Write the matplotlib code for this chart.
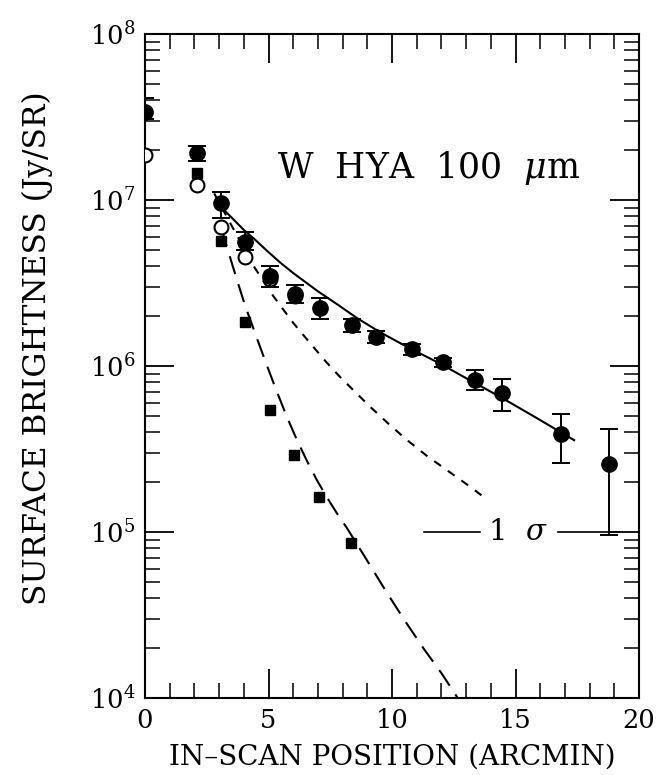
import numpy as np
import matplotlib
matplotlib.use("Agg")
import matplotlib.pyplot as plt
from matplotlib.ticker import LogLocator, MultipleLocator, NullFormatter

plt.rcParams['font.family'] = ['DejaVu Serif']
plt.rcParams['mathtext.fontset'] = 'dejavuserif'
plt.rcParams['mathtext.default'] = 'it'

# ---- data ----
# filled circles with error bars (total surface brightness)
x_total = [0.0, 2.1, 3.08, 4.05, 5.06, 6.07, 7.09, 8.38, 9.35, 10.8, 12.07, 13.36, 14.45, 16.84, 18.79]
y_total = [3.39e7, 1.92e7, 9.6e6, 5.58e6, 3.48e6, 2.71e6, 2.23e6, 1.77e6, 1.50e6, 1.26e6, 1.05e6, 8.24e5, 6.9e5, 3.89e5, 2.56e5]
y_total_hi = [4.11e7, 2.11e7, 1.12e7, 6.41e6, 4.0e6, 3.08e6, 2.57e6, 1.91e6, 1.63e6, 1.36e6, 1.12e6, 9.47e5, 8.31e5, 5.14e5, 4.16e5]
y_total_lo = [3.08e7, 1.72e7, 7.8e6, 5.0e6, 2.99e6, 2.40e6, 1.92e6, 1.61e6, 1.38e6, 1.16e6, 9.8e5, 7.16e5, 5.38e5, 2.61e5, 9.6e4]

# open circles
x_open = [0.0, 2.1, 3.08, 4.05, 5.06, 6.07]
y_open = [1.87e7, 1.23e7, 6.87e6, 4.54e6, 3.34e6, 2.64e6]

# filled squares (point source)
x_psf = [2.1, 3.08, 4.05, 5.06, 6.05, 7.04, 8.34]
y_psf = [1.45e7, 5.66e6, 1.85e6, 5.43e5, 2.91e5, 1.63e5, 8.55e4]

# model curves (log10 values)
x_solid = [3.2, 3.6, 4.0, 4.5, 4.93, 5.5, 6.0, 6.5, 7.0, 7.8, 8.57, 9.5, 10.6, 11.94, 13.2, 14.37, 15.9, 17.41]
logy_solid = [6.94, 6.88, 6.82, 6.755, 6.695, 6.62, 6.56, 6.505, 6.45, 6.37, 6.29, 6.205, 6.116, 6.015, 5.91, 5.815, 5.683, 5.55]

x_short = [2.8, 3.2, 3.6, 4.0, 4.45, 5.2, 6.0, 6.7, 7.36, 7.89, 8.5, 9.11, 9.8, 10.6, 11.4, 12.2, 13.0, 13.77]
logy_short = [7.04, 6.93, 6.82, 6.71, 6.59, 6.42, 6.26, 6.135, 6.02, 5.935, 5.845, 5.755, 5.66, 5.555, 5.46, 5.375, 5.29, 5.205]

x_long = [3.1, 3.31, 3.7, 4.05, 4.5, 4.93, 5.34, 5.74, 6.15, 6.55, 6.95, 7.36, 7.76, 8.17, 8.84, 9.79, 10.5, 11.27, 12.0, 12.66, 13.2]
logy_long = [6.83, 6.72, 6.53, 6.365, 6.18, 6.005, 5.845, 5.695, 5.555, 5.43, 5.315, 5.21, 5.115, 5.025, 4.865, 4.635, 4.47, 4.30, 4.15, 4.0, 3.88]

x_ticks_major = [0, 5, 10, 15, 20]

# ---- figure ----
fig = plt.figure(figsize=(6.72, 7.75), dpi=100)
ax = fig.add_axes([145/672, 1-698/775, (639-145)/672, (698-34)/775])

ax.set_yscale('log')
ax.set_xlim(0, 20)
ax.set_ylim(1e4, 1e8)

# curves
ax.plot(x_solid, 10**np.array(logy_solid), color='black', lw=1.5, solid_capstyle='butt')
ax.plot(x_short, 10**np.array(logy_short), color='black', lw=1.5, dashes=(4, 4))
ax.plot(x_long, 10**np.array(logy_long), color='black', lw=1.5, dashes=(9, 5))

# open circles
ax.plot(x_open, y_open, 'o', ms=10, mfc='white', mec='black', mew=1.5, zorder=3)
# squares
ax.plot(x_psf, y_psf, 's', ms=7.5, mfc='black', mec='black', zorder=4)
# filled circles with error bars
yerr = [np.array(y_total) - np.array(y_total_lo), np.array(y_total_hi) - np.array(y_total)]
ax.errorbar(x_total, y_total, yerr=yerr, fmt='o', ms=11, mfc='black', mec='black',
            ecolor='black', elinewidth=1.4, capsize=6.5, capthick=1.4, zorder=5)

# annotations
ax.text(5.33, 10**7.133, r'W  HYA  100  $\mu$m', fontsize=25, ha='left', va='baseline')
ax.plot([11.3, 13.56], [1e5, 1e5], color='black', lw=1.2)
ax.plot([16.72, 19.2], [1e5, 1e5], color='black', lw=1.2)
ax.text(15.1, 1e5, r'1  $\sigma$', fontsize=21, ha='center', va='center')

# ticks
ax.set_xticks(x_ticks_major)
ax.xaxis.set_minor_locator(MultipleLocator(1))
ax.yaxis.set_major_locator(LogLocator(base=10, numticks=10))
ax.yaxis.set_minor_locator(LogLocator(base=10, subs=np.arange(2, 10), numticks=20))
ax.yaxis.set_minor_formatter(NullFormatter())
ax.tick_params(which='both', direction='in', top=True, right=True, color='black')
ax.tick_params(which='major', length=21, width=1.3, labelsize=18.5, pad=7)
ax.tick_params(which='minor', length=11, width=1.1)
for s in ax.spines.values():
    s.set_linewidth(1.5)

ax.set_xlabel('IN–SCAN POSITION (ARCMIN)', fontsize=20, labelpad=8)
ax.set_ylabel('SURFACE BRIGHTNESS (Jy/SR)', fontsize=22.5)
ax.yaxis.set_label_coords(-0.186, 0.527)

fig.savefig('out.png', dpi=100)
